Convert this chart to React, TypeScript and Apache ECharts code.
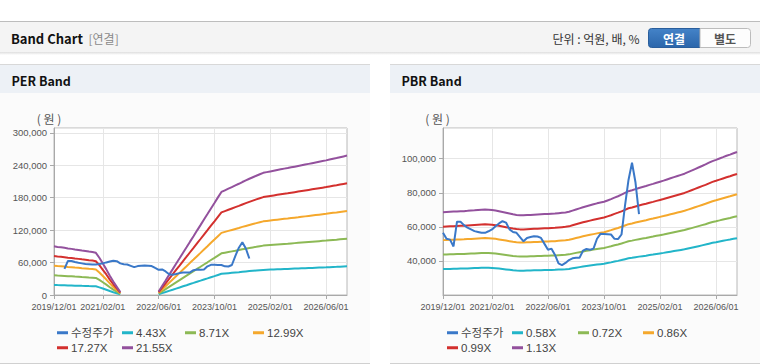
import React, { useEffect, useRef } from "react";
import * as echarts from "echarts";

// ---------- data ----------
// monthly categories 2019/12/01 .. 2026/12/01
const months: string[] = (() => {
  const out: string[] = [];
  let y = 2019;
  let m = 12;
  for (let i = 0; i < 85; i++) {
    out.push(`${y}/${String(m).padStart(2, "0")}/01`);
    m++;
    if (m > 12) { m = 1; y++; }
  }
  return out;
})();

const xTickLabels = ["2019/12/01", "2021/02/01", "2022/06/01", "2023/10/01", "2025/02/01", "2026/06/01"];

// adjusted share price (수정주가), monthly from 2019/12
const adjustedPrice = [
  56500, 53000, 52500, 48500, 63000, 63000, 61000, 59500, 58500, 57500,
  57000, 56500, 56500, 57400, 58500, 60300, 62000, 63300, 62500, 58500,
  57000, 56500, 54000, 51500, 53500, 54000, 54500, 54300, 53500, 50000,
  46600, 47200, 43500, 38500, 37500, 38800, 40500, 41500, 41800, 41800,
  46000, 47000, 46600, 47200, 53000, 55900, 55800, 55700, 55500, 53000,
  52800, 55500, 72500, 87500, 97600, 86000, 67500,
];
const perPriceFirstIndex = 3;

// EPS used by the PER band (원), monthly from 2019/12
const eps = [
  4180, 4130, 4090, 4050, 4000, 3960, 3910, 3870, 3820, 3780,
  3730, 3690, 3620, 3200, 2700, 2200, 1650, 1150, 700, 250,
  null, null, null, null, null, null, null, null, null, null,
  300, 780, 1250, 1730, 2200, 2680, 3150, 3630, 4100, 4580,
  5050, 5530, 6000, 6480, 6950, 7430, 7900, 8380, 8850, 8990,
  9130, 9270, 9410, 9550, 9700, 9840, 9980, 10110, 10240, 10370,
  10490, 10550, 10610, 10670, 10730, 10790, 10850, 10900, 10960, 11020,
  11080, 11140, 11200, 11260, 11320, 11380, 11440, 11500, 11560, 11630,
  11700, 11760, 11830, 11900, 11970,
];

// BPS used by the PBR band (원), monthly from 2019/12
const bps = [
  60700, 60800, 60900, 61000, 61100, 61200, 61250, 61400, 61550, 61700,
  61850, 62000, 62100, 62000, 61800, 61600, 61200, 60800, 60400, 60000,
  59600, 59300, 59100, 59100, 59200, 59300, 59400, 59500, 59600, 59700,
  59800, 59900, 60000, 60200, 60400, 60600, 60900, 61500, 62100, 62700,
  63300, 63800, 64300, 64800, 65300, 65700, 66100, 66800, 67500, 68300,
  69000, 69800, 70700, 71600, 72100, 72700, 73300, 73800, 74300, 74900,
  75400, 76000, 76550, 77100, 77700, 78300, 78900, 79500, 80100, 80700,
  81500, 82300, 83100, 83900, 84700, 85500, 86400, 87250, 87900, 88600,
  89300, 90000, 90600, 91300, 91950,
];

const perMultiples = [4.43, 8.71, 12.99, 17.27, 21.55];
const pbrMultiples = [0.58, 0.72, 0.86, 0.99, 1.13];
const priceName = "수정주가";
const perNames = [priceName, "4.43X", "8.71X", "12.99X", "17.27X", "21.55X"];
const pbrNames = [priceName, "0.58X", "0.72X", "0.86X", "0.99X", "1.13X"];

const colors = ["#3a78c8", "#22b5c9", "#8cb955", "#f5a82c", "#d3302e", "#93519d"];

const FONT = "'Liberation Sans', Arial, 'Noto Sans CJK KR', sans-serif";
const KFONT = "'Noto Sans CJK KR', 'Liberation Sans', sans-serif";

function fmt(v: number) {
  return String(v).replace(/\B(?=(\d{3})+(?!\d))/g, ",");
}

const isTick = (_i: number, v: string) => xTickLabels.includes(v);

function xAxis(gridIndex: number) {
  return {
    type: "category",
    gridIndex,
    data: months,
    boundaryGap: false,
    axisLine: { lineStyle: { color: "#a9a9a9" } },
    axisTick: { interval: isTick, length: 4, lineStyle: { color: "#a9a9a9" } },
    axisLabel: {
      interval: isTick,
      color: "#555",
      fontSize: 9,
      fontFamily: FONT,
      margin: 7,
      showMinLabel: true,
      hideOverlap: false,
    },
    splitLine: { show: true, interval: isTick, lineStyle: { color: "#e6e6e6" } },
  };
}

function yAxis(gridIndex: number, min: number, max: number, interval: number, showMin: boolean) {
  return {
    type: "value",
    gridIndex,
    min,
    max,
    interval,
    axisLine: { show: true, lineStyle: { color: "#a9a9a9" } },
    axisTick: { show: true, length: 4, lineStyle: { color: "#a9a9a9" } },
    axisLabel: {
      color: "#555",
      fontSize: 9.5,
      fontFamily: FONT,
      margin: 7,
      showMaxLabel: false,
      showMinLabel: showMin,
      formatter: (v: number) => fmt(v),
    },
    splitLine: { show: true, lineStyle: { color: "#e6e6e6" } },
  };
}

function lineSeries(name: string, data: (number | null)[], color: string, idx: number, z = 2) {
  return {
    type: "line",
    name,
    data,
    xAxisIndex: idx,
    yAxisIndex: idx,
    showSymbol: false,
    symbol: "none",
    connectNulls: false,
    lineStyle: { width: 2, color },
    itemStyle: { color },
    z,
  };
}

function legendItem(left: number, top: number, name: string) {
  return {
    left,
    top,
    data: [name],
    icon: "rect",
    itemWidth: 11,
    itemHeight: 3,
    itemGap: 4,
    selectedMode: false,
    textStyle: { fontSize: 11.5, color: "#444", fontFamily: FONT, padding: [0, 0, 0, -2] },
  };
}

export default function App() {
  const ref = useRef<HTMLDivElement>(null);
  useEffect(() => {
    if (!ref.current) return;
    const chart = echarts.init(ref.current, undefined, { renderer: "svg" });

    const perPrice = adjustedPrice.map((v, i) => (i < perPriceFirstIndex ? null : v));
    const perBands = perMultiples.map((m, k) =>
      lineSeries(perNames[k + 1], eps.map((e) => (e == null ? null : Math.round(e * m))), colors[k + 1], 0)
    );
    const pbrBands = pbrMultiples.map((m, k) =>
      lineSeries(pbrNames[k + 1], bps.map((b) => Math.round(b * m)), colors[k + 1], 1)
    );

    const panel = (x: number, w: number, title: string) => [
      { type: "rect", shape: { x, y: 64, width: w, height: 300 }, style: { fill: "#fbfbfb" }, z: -10 },
      { type: "rect", shape: { x, y: 64, width: w, height: 29 }, style: { fill: "#edf1f6" }, z: -9 },
      { type: "line", shape: { x1: x, y1: 64.5, x2: x + w, y2: 64.5 }, style: { stroke: "#d8d8d8", lineWidth: 1 }, z: -8 },
      { type: "line", shape: { x1: x, y1: 363.5, x2: x + w, y2: 363.5 }, style: { stroke: "#d0d0d0", lineWidth: 1 }, z: -8 },
      {
        type: "text",
        x: x + 11.5,
        y: 80.5,
        style: { text: title, font: `bold 12.5px ${KFONT}`, fill: "#111", verticalAlign: "middle" },
      },
    ];

    const perLegendX = [52, 117, 180, 248, 52, 117];
    const pbrLegendX = [442, 507, 573, 638, 442, 507];
    const legendY = [322, 322, 322, 322, 337, 337];

    const option: any = {
      animation: false,
      color: colors,
      grid: [
        { left: 54, top: 128, width: 293, height: 167, show: true, borderColor: "#b8b8b8", backgroundColor: "#fff" },
        { left: 443, top: 128, width: 294, height: 167, show: true, borderColor: "#b8b8b8", backgroundColor: "#fff" },
      ],
      xAxis: [xAxis(0), xAxis(1)],
      yAxis: [yAxis(0, 0, 309000, 60000, true), yAxis(1, 20000, 118000, 20000, false)],
      legend: [
        ...perNames.map((n, i) => legendItem(perLegendX[i], legendY[i], n)),
        ...pbrNames.map((n, i) => legendItem(pbrLegendX[i], legendY[i], n)),
      ],
      series: [
        lineSeries(priceName, perPrice, colors[0], 0, 5),
        ...perBands,
        lineSeries(priceName, adjustedPrice, colors[0], 1, 5),
        ...pbrBands,
      ],
      graphic: [
        // header
        { type: "rect", shape: { x: 0, y: 21, width: 760, height: 31 }, style: { fill: "#f4f4f4" }, z: -10 },
        { type: "line", shape: { x1: 0, y1: 21.5, x2: 760, y2: 21.5 }, style: { stroke: "#bdbdbd", lineWidth: 1 }, z: -9 },
        {
          type: "rect",
          shape: { x: 0, y: 52, width: 760, height: 3 },
          style: {
            fill: new echarts.graphic.LinearGradient(0, 0, 0, 1, [
              { offset: 0, color: "rgba(0,0,0,0.13)" },
              { offset: 1, color: "rgba(0,0,0,0)" },
            ]),
          },
          z: -9,
        },
        { type: "text", x: 11, y: 38, style: { text: "Band Chart", font: `bold 13px ${KFONT}`, fill: "#111", verticalAlign: "middle" } },
        { type: "text", x: 88.5, y: 38.5, style: { text: "[연결]", font: `12px ${KFONT}`, fill: "#8a8a8a", verticalAlign: "middle" } },
        { type: "text", x: 552.5, y: 38.5, style: { text: "단위 : 억원, 배, %", font: `12px ${KFONT}`, fill: "#333", verticalAlign: "middle" } },
        {
          type: "rect",
          shape: { x: 648.5, y: 28.5, width: 51.5, height: 19, r: [3, 0, 0, 3] },
          style: {
            fill: new echarts.graphic.LinearGradient(0, 0, 0, 1, [
              { offset: 0, color: "#4483c8" },
              { offset: 1, color: "#2b66ab" },
            ]),
            stroke: "#2a5e9c",
            lineWidth: 1,
          },
        },
        {
          type: "rect",
          shape: { x: 700, y: 28.5, width: 50.5, height: 19, r: [0, 3, 3, 0] },
          style: { fill: "#fdfdfd", stroke: "#bcbcbc", lineWidth: 1 },
        },
        { type: "text", x: 674, y: 38.5, style: { text: "연결", font: `bold 12px ${KFONT}`, fill: "#fff", align: "center", verticalAlign: "middle" } },
        { type: "text", x: 725, y: 38.5, style: { text: "별도", font: `bold 12px ${KFONT}`, fill: "#555", align: "center", verticalAlign: "middle" } },
        // panels
        ...panel(0, 370, "PER Band"),
        ...panel(390, 370, "PBR Band"),
        { type: "text", x: 49, y: 118, style: { text: "( 원 )", font: `12px ${KFONT}`, fill: "#555", align: "center", verticalAlign: "middle" } },
        { type: "text", x: 437.5, y: 118, style: { text: "( 원 )", font: `12px ${KFONT}`, fill: "#555", align: "center", verticalAlign: "middle" } },
      ],
    };
    chart.setOption(option);
    return () => chart.dispose();
  }, []);
  return <div ref={ref} style={{ position: "fixed", left: 0, top: 0, width: 760, height: 364, background: "#fff" }} />;
}
